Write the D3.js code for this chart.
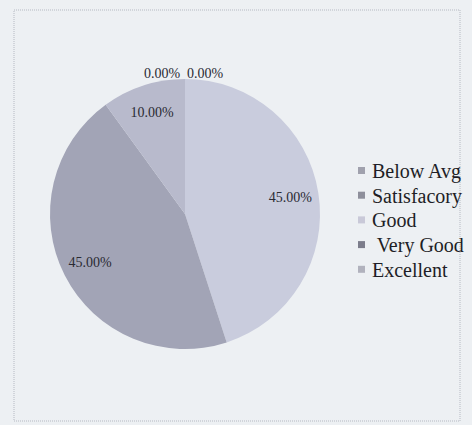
<!DOCTYPE html>
<html>
<head>
<meta charset="utf-8">
<script src="https://cdn.jsdelivr.net/npm/d3@7"></script>
<style>
  html, body { margin: 0; padding: 0; background: #edf0f3; }
  svg { display: block; }
</style>
</head>
<body>
<script>
const categories = ["Below Avg", "Satisfacory", "Good", " Very Good", "Excellent"];
const values = [0, 0, 45, 45, 10];
const valueLabels = ["0.00%", "0.00%", "45.00%", "45.00%", "10.00%"];
const sliceColors = ["#a4a5b2", "#9596a3", "#c9ccdd", "#a2a4b6", "#b8bacc"];
const swatchColors = ["#a0a1ad", "#8e8f9b", "#c9c9d8", "#7c7d8b", "#b1b2bd"];

const W = 472, H = 425;
const svg = d3.select("body").append("svg").attr("width", W).attr("height", H);

svg.append("rect").attr("width", W).attr("height", H).attr("fill", "#edf0f3");
svg.append("rect")
  .attr("x", 14).attr("y", 10).attr("width", 446).attr("height", 411)
  .attr("fill", "none").attr("stroke", "#b5b9c2").attr("stroke-width", 1)
  .attr("stroke-dasharray", "1,1");

const cx = 185, cy = 214, r = 135;
const pie = d3.pie().value(d => d).sort(null);
const arcs = pie(values);
const arc = d3.arc().innerRadius(0).outerRadius(r);
const labelArc = d3.arc().innerRadius(r * 0.79).outerRadius(r * 0.79);

const g = svg.append("g").attr("transform", `translate(${cx},${cy})`);
g.selectAll("path.slice").data(arcs).join("path")
  .attr("class", "slice")
  .attr("d", arc)
  .attr("fill", (d, i) => sliceColors[i]);

// labels
let zeroCount = 0;
g.selectAll("text.lbl").data(arcs).join("text")
  .attr("class", "lbl")
  .attr("font-family", "Liberation Serif, Times New Roman, serif")
  .attr("font-size", 14)
  .attr("fill", "#2a2a33")
  .attr("text-anchor", "middle")
  .attr("dominant-baseline", "central")
  .attr("transform", (d, i) => {
    if (d.value === 0) {
      const off = zeroCount++ === 0 ? -23 : 20;
      return `translate(${off},${-r - 6})`;
    }
    const [x, y] = labelArc.centroid(d);
    return `translate(${x},${y})`;
  })
  .text((d, i) => valueLabels[i]);

// legend
const legend = svg.append("g").attr("transform", "translate(358,171)");
const rows = legend.selectAll("g").data(categories).join("g")
  .attr("transform", (d, i) => `translate(0,${i * 24.7})`);
rows.append("rect").attr("x", 0).attr("y", -4).attr("width", 7).attr("height", 7)
  .attr("fill", (d, i) => swatchColors[i]);
rows.append("text")
  .attr("x", 14).attr("y", 0)
  .attr("dominant-baseline", "central")
  .attr("font-family", "Liberation Serif, Times New Roman, serif")
  .attr("font-size", 20)
  .attr("fill", "#1e1e26")
  .style("white-space", "pre")
  .text(d => d);
</script>
</body>
</html>
